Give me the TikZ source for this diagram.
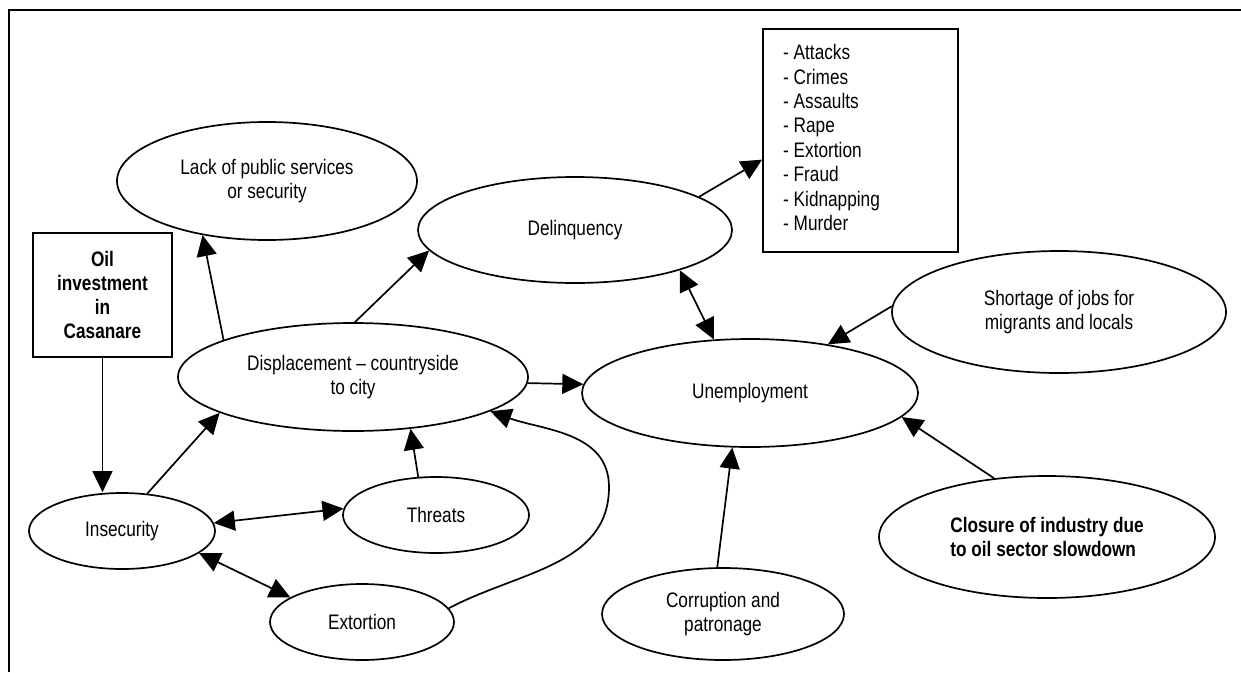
\documentclass[tikz,border=0pt]{standalone}
\usepackage{fontspec}
\setmainfont{Liberation Sans}[FakeStretch=0.82]
\usetikzlibrary{shapes.geometric,arrows.meta}
\setlength{\parindent}{0pt}

\begin{document}
\begin{tikzpicture}[x=1pt,y=-1pt,
  font=\fontsize{21}{24.5}\selectfont,
  bubble/.style={draw,ellipse,line width=1.7pt,inner sep=0pt,align=center},
  box/.style={draw,rectangle,line width=1.7pt,inner sep=0pt},
  tip/.tip={Triangle[length=21pt,width=20pt]},
  link/.style={line width=1.7pt,-tip},
  twoway/.style={line width=1.7pt,tip-tip},
]
\useasboundingbox (0,0) rectangle (1241,672);

% outer frame (top and left edges)
\draw[line width=2.5pt] (9,672) -- (9,10) -- (1241,10);

% causes and effects
\node[bubble,minimum width=300pt,minimum height=118pt] (lack) at (267,181) {Lack of public services\\or security};
\node[bubble,minimum width=314pt,minimum height=106pt] (delin) at (575,230) {Delinquency};
\node[box,minimum width=195pt,minimum height=223pt] (list) at (860.5,140.5) {};
\node[anchor=west,inner sep=0pt,align=left,font=\fontsize{21}{24.4}\selectfont] (listtext) at (783,137.5)
  {- Attacks\\- Crimes\\- Assaults\\- Rape\\- Extortion\\- Fraud\\- Kidnapping\\- Murder};
\node[bubble,minimum width=334pt,minimum height=122pt] (short) at (1059,312) {Shortage of jobs for\\migrants and locals};
\node[box,minimum width=139pt,minimum height=124pt,align=center,font=\fontsize{21}{24.3}\selectfont\bfseries] (oil) at (102.5,295) {Oil\\investment\\in\\Casanare};
\node[bubble,minimum width=350pt,minimum height=108pt] (displ) at (353,377) {Displacement – countryside\\to city};
\node[bubble,minimum width=336pt,minimum height=108pt] (unemp) at (750,393) {Unemployment};
\node[bubble,minimum width=186pt,minimum height=76pt] (insec) at (122,531) {Insecurity};
\node[bubble,minimum width=186pt,minimum height=76pt] (threat) at (436,515) {Threats};
\node[bubble,minimum width=184pt,minimum height=76pt] (extort) at (362,622) {Extortion};
\node[bubble,minimum width=242pt,minimum height=92pt] (corrupt) at (723,614) {Corruption and\\patronage};
\node[bubble,minimum width=336pt,minimum height=122pt,align=left,font=\fontsize{21}{24.5}\selectfont\bfseries] (closure) at (1047,537) {Closure of industry due\\to oil sector slowdown};

\coordinate (bend) at (609,487);

% connectors
\draw[link] (displ.164.8) -- (lack.220.2);
\draw[link] (displ.88) -- (delin.188.5);
\draw[link] (delin.15.9) -- (list.191.3);
\draw[twoway] (delin.-21.4) -- (unemp.124.9);
\draw[link] (short.178.3) -- (unemp.32.7);
\draw[link] (displ.-2.9) -- (unemp.177.6);
\draw[link] (oil.south) -- (oil.south |- insec.north);
\draw[link] (insec.56.7) -- (displ.195.5);
\draw[link] (threat.115.3) -- (displ.-42);
\draw[twoway] (insec.5.5) -- (threat.176.9);
\draw[twoway] (insec.-16.6) -- (extort.161.6);
\draw[link] (extort.9.6) to[out=28,in=-90] (bend) to[out=90,in=-20] (displ.-14.4);
\draw[link] (corrupt.97.7) -- (unemp.-108.1);
\draw[link] (closure.132.5) -- (unemp.-9.3);
\end{tikzpicture}
\end{document}
